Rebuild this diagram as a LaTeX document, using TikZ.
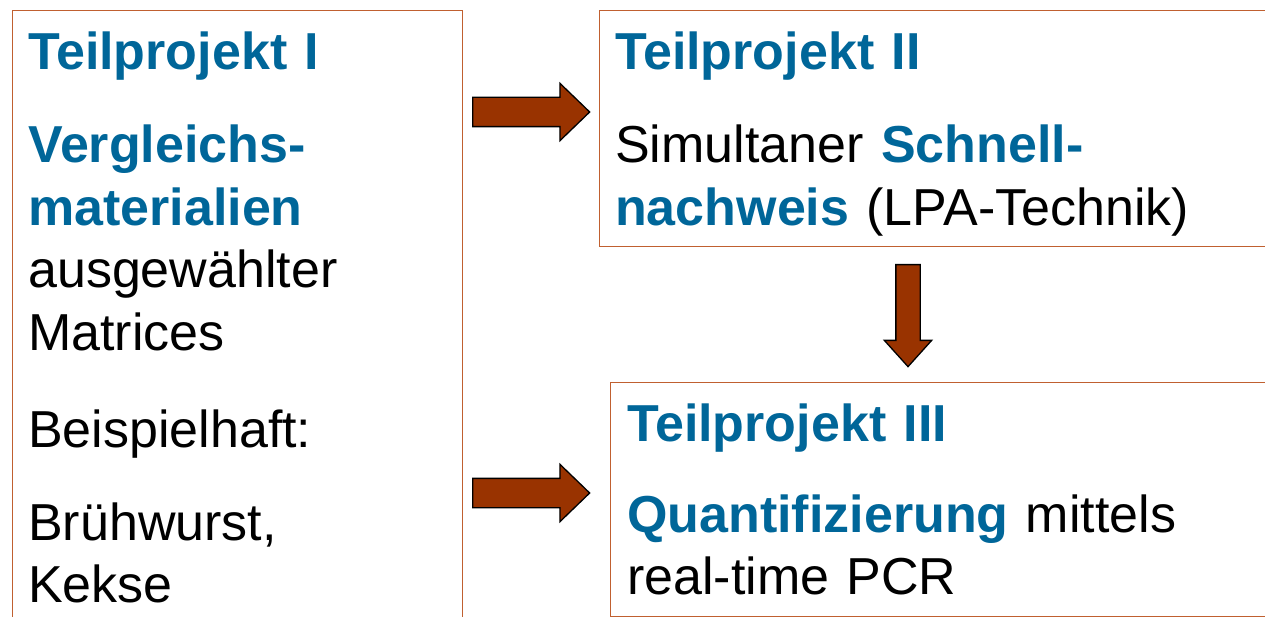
\documentclass[tikz,border=0pt]{standalone}
\usepackage{fontspec}
\setmainfont{Liberation Sans}
\usetikzlibrary{shapes.arrows}

\definecolor{tpblue}{RGB}{0,102,153}
\definecolor{tpframe}{RGB}{192,96,48}
\definecolor{tparrow}{RGB}{153,51,0}

\tikzset{
  tpbox/.style={draw=tpframe, line width=1.3pt, rectangle, anchor=north west, inner sep=0pt},
  tptext/.style={anchor=base west, inner sep=0pt, text width=640pt, align=left,
    font=\fontsize{52}{62.5}\selectfont},
  tparrowbox/.style={single arrow, draw=black, fill=tparrow, line width=1.3pt,
    inner sep=14pt, single arrow head extend=14pt, single arrow tip angle=88, anchor=tail},
}
\newcommand{\tpbf}[1]{\textcolor{tpblue}{\bfseries #1}}

\begin{document}
\begin{tikzpicture}[x=1pt,y=-1pt]
\useasboundingbox (0,0) rectangle (1265,617);
\clip (0,0) rectangle (1265,617);

\node[tpbox, minimum width=450pt, minimum height=700pt] (teilI) at (12,10) {};
\node[tpbox, minimum width=800pt, minimum height=236pt] (teilII) at (599,10) {};
\node[tpbox, minimum width=800pt, minimum height=234pt] (teilIII) at (610,382) {};

%\draw[red] (0,70) -- (1265,70);

\node[tptext] (tIa) at (28,70) {\tpbf{Teilprojekt I}};
\node[tptext] (tIb) at (28,163) {\tpbf{Vergleichs-}\\\tpbf{materialien}\\ausgewählter\\Matrices};
\node[tptext] (tIc) at (28,447) {Beispielhaft:};
\node[tptext] (tId) at (28,540) {Brühwurst,\\Kekse};

\node[tptext] (tIIa) at (615,70) {\tpbf{Teilprojekt II}};
\node[tptext] (tIIb) at (615,163) {Simultaner \tpbf{Schnell-}\\\tpbf{nachweis} (LPA-Technik)};

\node[tptext] (tIIIa) at (627,441) {\tpbf{Teilprojekt III}};
\node[tptext] (tIIIb) at (627,532) {\tpbf{Quantifizierung} mittels\\real-time PCR};

\node[tparrowbox, minimum height=117pt] (pfeilA) at (472,112) {};
\node[tparrowbox, minimum height=117pt] (pfeilB) at (472,493) {};
\node[tparrowbox, minimum height=102pt, inner sep=11.5pt, single arrow head extend=11.5pt,
  single arrow tip angle=84, shape border rotate=270] (pfeilC) at (908,264) {};

\end{tikzpicture}
\end{document}
